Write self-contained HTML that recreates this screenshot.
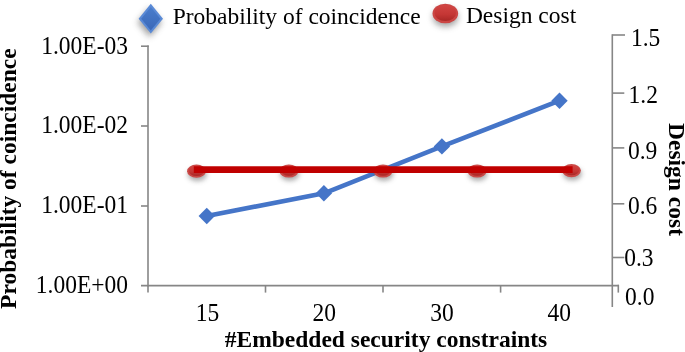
<!DOCTYPE html>
<html>
<head>
<meta charset="utf-8">
<style>
html,body{margin:0;padding:0;background:#fff;}
body{width:685px;height:352px;overflow:hidden;position:relative;}
svg{position:absolute;left:0;top:0;}
text{font-family:"Liberation Serif",serif;font-size:23.5px;fill:#000;}
.b{font-weight:bold;}
</style>
</head>
<body>
<svg width="685" height="352" viewBox="0 0 685 352">
<defs>
  <linearGradient id="rg" x1="0" y1="0" x2="0" y2="1">
    <stop offset="0" stop-color="#d24543"/>
    <stop offset="0.6" stop-color="#c43634"/>
    <stop offset="1" stop-color="#a92826"/>
  </linearGradient>
  <linearGradient id="bg" x1="0" y1="0" x2="0" y2="1">
    <stop offset="0" stop-color="#4a7dcc"/>
    <stop offset="1" stop-color="#3a68b8"/>
  </linearGradient>
  <filter id="sh" x="-60%" y="-60%" width="220%" height="220%">
    <feGaussianBlur stdDeviation="2.5"/>
  </filter>
  <filter id="sh2" x="-60%" y="-60%" width="220%" height="220%">
    <feGaussianBlur stdDeviation="3"/>
  </filter>
</defs>
<g stroke="#868686" stroke-width="1.6" fill="none">
  <line x1="148" y1="45.4" x2="148" y2="286.4"/>
  <line x1="141" y1="46.2" x2="148.8" y2="46.2"/>
  <line x1="141" y1="126" x2="148" y2="126"/>
  <line x1="141" y1="206" x2="148" y2="206"/>
  <line x1="141" y1="285.6" x2="619" y2="285.6"/>
  <line x1="148" y1="285.6" x2="148" y2="292.6"/>
  <line x1="265.5" y1="285.6" x2="265.5" y2="292.6"/>
  <line x1="383" y1="285.6" x2="383" y2="292.6"/>
  <line x1="500.6" y1="285.6" x2="500.6" y2="292.6"/>
  <line x1="618.3" y1="284.8" x2="618.3" y2="292.6"/>
  <line x1="612.3" y1="34.2" x2="612.3" y2="307"/>
  <line x1="612.3" y1="35" x2="625" y2="35"/>
  <line x1="612.3" y1="93.1" x2="624.3" y2="93.1"/>
  <line x1="612.3" y1="147.9" x2="624.3" y2="147.9"/>
  <line x1="612.3" y1="203.8" x2="624.3" y2="203.8"/>
  <line x1="612.3" y1="257.5" x2="624.3" y2="257.5"/>
</g>
<polyline points="206.75,216 323.9,193.3 441.9,146.4 559.5,100.7" fill="none" stroke="#4575c8" stroke-width="4.6" stroke-linejoin="round"/>
<g fill="#4575c8">
  <polygon points="206.75,207.8 214.95,216 206.75,224.2 198.55,216"/>
  <polygon points="323.9,185.10000000000002 332.09999999999997,193.3 323.9,201.5 315.7,193.3"/>
  <polygon points="441.9,138.20000000000002 450.09999999999997,146.4 441.9,154.6 433.7,146.4"/>
  <polygon points="559.5,92.5 567.7,100.7 559.5,108.9 551.3,100.7"/>
</g>
<g opacity="0.5" filter="url(#sh)" fill="#555">
  <ellipse cx="197.3" cy="174.39999999999998" rx="9.5" ry="6.5"/>
  <ellipse cx="289.7" cy="174.2" rx="9.5" ry="6.5"/>
  <ellipse cx="383.8" cy="174.2" rx="9.5" ry="6.5"/>
  <ellipse cx="477.90000000000003" cy="174.2" rx="9.5" ry="6.5"/>
  <ellipse cx="572.3" cy="173.79999999999998" rx="9.5" ry="6.5"/>
</g>
<g>
  <ellipse cx="196.5" cy="171.2" rx="9.4" ry="6.6" fill="#c94846"/>
  <ellipse cx="196.5" cy="170.7" rx="7.8" ry="5.2" fill="url(#rg)"/>
  <ellipse cx="288.9" cy="171" rx="9.4" ry="6.6" fill="#c94846"/>
  <ellipse cx="288.9" cy="170.5" rx="7.8" ry="5.2" fill="url(#rg)"/>
  <ellipse cx="383" cy="171" rx="9.4" ry="6.6" fill="#c94846"/>
  <ellipse cx="383" cy="170.5" rx="7.8" ry="5.2" fill="url(#rg)"/>
  <ellipse cx="477.1" cy="171" rx="9.4" ry="6.6" fill="#c94846"/>
  <ellipse cx="477.1" cy="170.5" rx="7.8" ry="5.2" fill="url(#rg)"/>
  <ellipse cx="571.5" cy="170.6" rx="9.4" ry="6.6" fill="#c94846"/>
  <ellipse cx="571.5" cy="170.1" rx="7.8" ry="5.2" fill="url(#rg)"/>
</g>
<line x1="193.8" y1="169.6" x2="572.6" y2="169.6" stroke="#c00000" stroke-width="6.6"/>
<polygon points="149.6,7.6 161.8,22.4 149.6,37.3 137.4,22.4" fill="#555" opacity="0.55" filter="url(#sh2)"/>
<polygon points="150.8,3.8 163,18.65 150.8,33.5 138.6,18.65" fill="#5a8ad6"/>
<polygon points="150.8,6.9 160.4,18.65 150.8,30.4 141.2,18.65" fill="url(#bg)"/>
<ellipse cx="445.5" cy="17.2" rx="12.5" ry="9.5" fill="#555" opacity="0.55" filter="url(#sh2)"/>
<ellipse cx="445.3" cy="13.5" rx="12.8" ry="9.8" fill="#cb4644"/>
<ellipse cx="445.3" cy="13" rx="10.8" ry="8" fill="url(#rg)"/>
<g style="filter:grayscale(1)">
<text transform="translate(172.7,23.8) scale(1.0,1.01)">Probability of coincidence</text>
<text transform="translate(465.9,23.0) scale(1.0,1.01)">Design cost</text>
<text text-anchor="end" transform="translate(128,53.5) scale(1.0,1.03)">1.00E-03</text>
<text text-anchor="end" transform="translate(128,133.3) scale(1.0,1.03)">1.00E-02</text>
<text text-anchor="end" transform="translate(128,213.1) scale(1.0,1.03)">1.00E-01</text>
<text text-anchor="end" transform="translate(128,292.7) scale(1.0,1.03)">1.00E+00</text>
<text transform="translate(630.9,46.3) scale(1.0,1.03)">1.5</text>
<text transform="translate(628.6,102.9) scale(1.0,1.03)">1.2</text>
<text transform="translate(628,158.9) scale(1.0,1.03)">0.9</text>
<text transform="translate(628,214.3) scale(1.0,1.03)">0.6</text>
<text transform="translate(624.2,265.6) scale(1.0,1.03)">0.3</text>
<text transform="translate(625.1,305.2) scale(1.0,1.03)">0.0</text>
<text text-anchor="middle" transform="translate(207.5,320.7) scale(1.0,1.03)">15</text>
<text text-anchor="middle" transform="translate(324.2,320.7) scale(1.0,1.03)">20</text>
<text text-anchor="middle" transform="translate(442,320.7) scale(1.0,1.03)">30</text>
<text text-anchor="middle" transform="translate(559.3,320.7) scale(1.0,1.03)">40</text>
<text class="b" text-anchor="middle" transform="translate(386,347)">#Embedded security constraints</text>
<text class="b" text-anchor="middle" transform="translate(15.8,178.6) rotate(-90)">Probability of coincidence</text>
<text class="b" text-anchor="middle" transform="translate(669.2,179.5) rotate(90)">Design cost</text>
</g>
</svg>
</body>
</html>
